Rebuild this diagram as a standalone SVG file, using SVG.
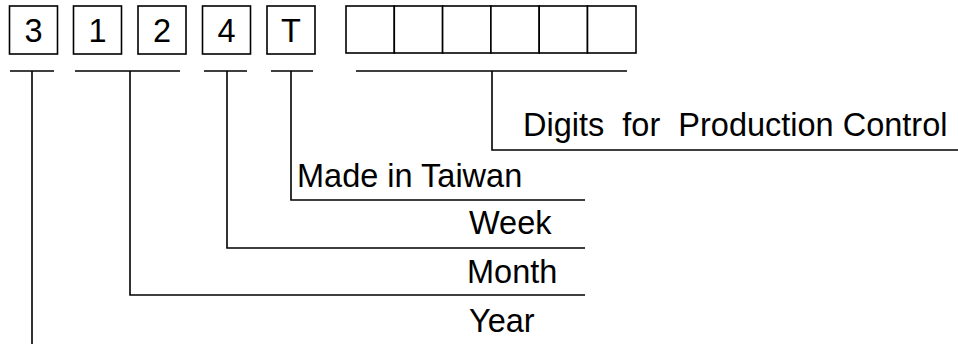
<svg xmlns="http://www.w3.org/2000/svg" width="958" height="344" viewBox="0 0 958 344">
  <style>
    .box { fill: #fff; stroke: #000; stroke-width: 1.6; }
    .ln { fill: none; stroke: #000; stroke-width: 1.6; }
    .t { font-family: "Liberation Sans", Arial, sans-serif; font-size: 32.5px; fill: #000; white-space: pre; }
    .c { text-anchor: middle; }
  </style>
  <rect width="958" height="344" fill="#fff"/>
  <g id="digit-3">
    <rect class="box" x="9.5" y="6" width="48" height="48"/>
    <text class="t c" x="33.5" y="41.5">3</text>
  </g>
  <g id="digit-1">
    <rect class="box" x="73.5" y="6" width="48" height="48"/>
    <text class="t c" x="97.5" y="41.5">1</text>
  </g>
  <g id="digit-2">
    <rect class="box" x="138" y="6" width="48" height="48"/>
    <text class="t c" x="162" y="41.5">2</text>
  </g>
  <g id="digit-4">
    <rect class="box" x="202.5" y="6" width="48" height="48"/>
    <text class="t c" x="226.5" y="41.5">4</text>
  </g>
  <g id="digit-T">
    <rect class="box" x="267" y="6" width="48" height="48"/>
    <text class="t c" x="291" y="41.5">T</text>
  </g>
  <g id="production-boxes">
    <rect class="box" x="346" y="6" width="48.3" height="47"/>
    <rect class="box" x="394.3" y="6" width="48.3" height="47"/>
    <rect class="box" x="442.6" y="6" width="48.3" height="47"/>
    <rect class="box" x="490.9" y="6" width="48.3" height="47"/>
    <rect class="box" x="539.2" y="6" width="48.3" height="47"/>
    <rect class="box" x="587.5" y="6" width="48.5" height="47"/>
  </g>
  <g id="label-production">
    <text class="t" x="523" y="136" xml:space="preserve">Digits  for  Production Control</text>
  </g>
  <g id="label-taiwan">
    <text class="t" x="297" y="187">Made in Taiwan</text>
  </g>
  <g id="label-week">
    <text class="t" x="469" y="234">Week</text>
  </g>
  <g id="label-month">
    <text class="t" x="467" y="283">Month</text>
  </g>
  <g id="label-year">
    <text class="t" x="469" y="332">Year</text>
  </g>
  <g id="connectors">
    <path class="ln" d="M10 71H54M32 71V344"/>
    <path class="ln" d="M75 71H180M130 71V295H585"/>
    <path class="ln" d="M204 71H247M227 71V248H585"/>
    <path class="ln" d="M271 71H313M291 71V200H585"/>
    <path class="ln" d="M356 71H627M492 71V150H958"/>
  </g>
</svg>
